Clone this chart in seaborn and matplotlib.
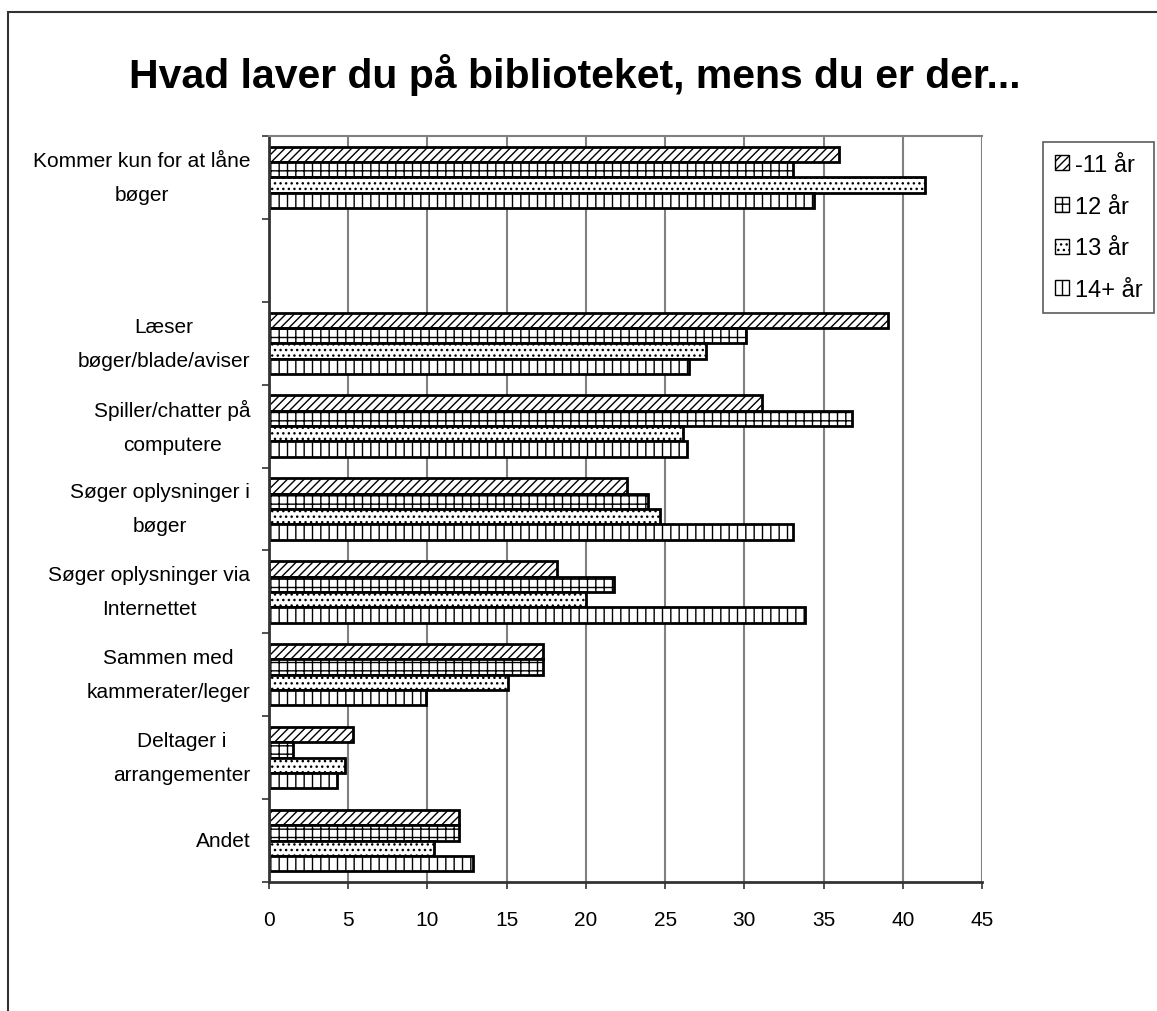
import matplotlib
matplotlib.use("Agg")
import matplotlib.pyplot as plt
from matplotlib.patches import Patch, Rectangle
import seaborn as sns
import numpy as np
import pandas as pd

categories = [
    "Kommer kun for at låne\nbøger",
    " ",
    "Læser\nbøger/blade/aviser",
    "Spiller/chatter på\ncomputere",
    "Søger oplysninger i\nbøger",
    "Søger oplysninger via\nInternettet",
    "Sammen med\nkammerater/leger",
    "Deltager i\narrangementer",
    "Andet",
]
ages = ["-11 år", "12 år", "13 år", "14+ år"]
v_11 = [36.0, np.nan, 39.1, 31.1, 22.6, 18.2, 17.3, 5.3, 12.0]
v_12 = [33.1, np.nan, 30.1, 36.8, 23.9, 21.8, 17.3, 1.5, 12.0]
v_13 = [41.4, np.nan, 27.6, 26.1, 24.7, 20.0, 15.1, 4.8, 10.4]
v_14 = [34.4, np.nan, 26.5, 26.4, 33.1, 33.8, 9.9, 4.3, 12.9]
hatches = ["////", "++", "...", "||"]

rows = []
for age, vals in zip(ages, [v_11, v_12, v_13, v_14]):
    for cat, v in zip(categories, vals):
        rows.append({"aktivitet": cat, "alder": age, "pct": v})
df = pd.DataFrame(rows)

sns.set_style("white")
plt.rcParams["font.family"] = ["Liberation Sans", "DejaVu Sans"]
plt.rcParams["hatch.linewidth"] = 1.0
plt.rcParams["text.color"] = "black"
plt.rcParams["xtick.color"] = "black"
plt.rcParams["ytick.color"] = "black"

fig = plt.figure(figsize=(11.57, 10.12), dpi=100)
ax = fig.add_axes([0.2325, 0.1275, 0.8487 - 0.2325, 0.8646 - 0.1275])

sns.barplot(data=df, y="aktivitet", x="pct", hue="alder", order=categories,
            hue_order=ages, orient="h", width=0.74, palette=["white"] * 4,
            errorbar=None, ax=ax, legend=False)

for cont, h in zip(ax.containers, hatches):
    for bar in cont:
        bar.set_facecolor("white")
        bar.set_edgecolor("black")
        bar.set_linewidth(2)
        bar.set_hatch(h)

ax.set_xlim(0, 45)
ax.set_ylim(len(categories) - 0.5, -0.5)
ax.set_xticks(range(0, 46, 5))
ax.xaxis.grid(True, color="#808080", linewidth=1.5)
ax.set_axisbelow(True)
ax.set_xlabel("")
ax.set_ylabel("")

ax.set_yticks(np.arange(-0.5, len(categories), 1.0), minor=True)
ax.tick_params(axis="y", which="major", length=0, pad=13.5, labelsize=15)
ax.tick_params(axis="y", which="minor", length=5, width=1.2, color="#333333", left=True)
ax.tick_params(axis="x", length=5, width=1.2, color="#333333", pad=15, labelsize=15, bottom=True)
for lab in ax.get_yticklabels():
    lab.set_multialignment("center")
    lab.set_linespacing(2.0)
    lab.set_verticalalignment("center")

for side in ["top", "right"]:
    ax.spines[side].set_color("#808080")
    ax.spines[side].set_linewidth(1.5)
for side in ["left", "bottom"]:
    ax.spines[side].set_color("#333333")
    ax.spines[side].set_linewidth(2)
ax.spines["right"].set_visible(False)

fig.text(0.497, 0.926, "Hvad laver du på biblioteket, mens du er der...",
         ha="center", va="center", fontsize=29.5, fontweight="bold")

handles = [Patch(facecolor="white", edgecolor="black", hatch=h, linewidth=1) for h in hatches]
leg = fig.legend(handles, ages, loc="upper left", bbox_to_anchor=(1043 / 1157, 1 - 143 / 1012),
                 frameon=True, fancybox=False, fontsize=17, handlelength=0.6, handleheight=0.6,
                 labelspacing=0.84, handletextpad=0.25, borderpad=0.5, borderaxespad=0)
leg.get_frame().set_edgecolor("#333333")
leg.get_frame().set_linewidth(1.2)

fig.patches.append(Rectangle((8 / 1157, -0.1), 1.2, 1 - 13 / 1012 + 0.1, transform=fig.transFigure,
                             fill=False, edgecolor="#333333", linewidth=1.5))

fig.savefig("out.png", dpi=100)
